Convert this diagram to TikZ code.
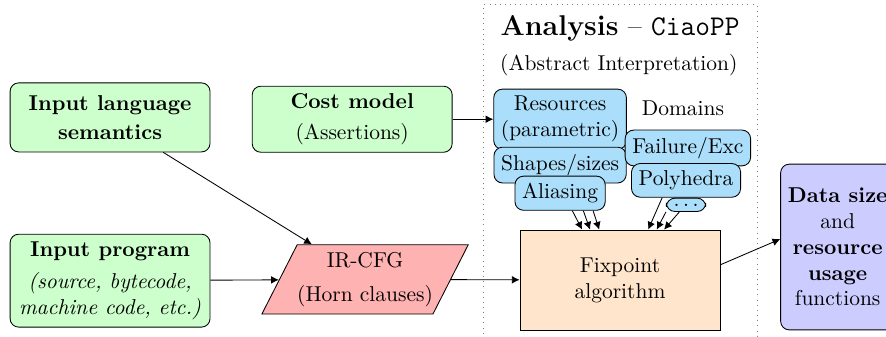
\documentclass[tikz,border=0pt]{standalone}
\usetikzlibrary{positioning,shapes.geometric,arrows.meta}
\definecolor{domblue}{RGB}{170,222,250}

\begin{document}
\begin{tikzpicture}
    [>={Latex[length=3.6pt,width=3.6pt]}, every node/.style={draw, align=center, rounded corners=4pt},
     inbox/.style={fill=green!20, minimum width=3.27cm},
     dombox/.style={fill=domblue}]
  \useasboundingbox (0,0) rectangle (14.49,5.51);

  % analysis frame
  \draw[dotted, gray] (7.90,-0.2) rectangle (12.38,5.43);
  \node[draw=none, font=\fontsize{13.3}{16}\selectfont] (title) at (10.14,5.05) {\textbf{Analysis} -- \texttt{CiaoPP}};
  \node[draw=none] (absint) at (10.12,4.45) {(Abstract Interpretation)};
  \node[draw=none] (domlbl) at (11.17,3.74) {Domains};

  % inputs
  \node[inbox, minimum height=1.13cm] (sem) at (1.80,3.59) {\textbf{Input language}\\[1.5pt]\textbf{semantics}};
  \node[inbox, minimum height=1.08cm] (cost) at (5.76,3.56) {\textbf{Cost model}\\[2pt](Assertions)};
  \node[inbox, minimum height=1.52cm] (prog) at (1.80,0.92) {\textbf{Input program}\\[3pt]\textit{(source, bytecode,}\\\textit{machine code, etc.)}};

  \node[trapezium, trapezium left angle=63, trapezium right angle=117, inner xsep=0pt,
        rounded corners=0pt, fill=red!30, minimum height=1.1cm] (ir) at (5.97,0.94) {IR-CFG\\[4pt](Horn clauses)};
  \node[rounded corners=0pt, fill=orange!20, minimum width=3.27cm, minimum height=1.635cm] (fix) at (10.14,0.93) {Fixpoint\\algorithm};
  \node[fill=blue!20, minimum height=2.71cm] (out) at (13.70,1.47) {\textbf{Data size}\\and\\\textbf{resource}\\\textbf{usage}\\functions};

  % abstract domains
  \node[dombox] (res) at (9.16,3.56) {Resources\\(parametric)};
  \node[dombox] (shp) at (9.16,2.81) {Shapes/sizes};
  \node[dombox] (alias) at (9.16,2.35) {Aliasing};
  \node[dombox] (fail) at (11.25,3.09) {Failure/Exc};
  \node[dombox] (poly) at (11.22,2.56) {Polyhedra};
  \node[dombox, text height=1.2pt, text depth=0pt, inner ysep=2.5pt] (more) at (11.22,2.16) {$\dots$};

  \draw[->] ([xshift=0.87cm]sem.south) -- ([xshift=-0.87cm]ir.north);
  \foreach \from/\to in {cost/res, prog/ir, ir/fix}
    \draw[->] (\from) -- (\to);
  \draw[->] ([yshift=0.25cm]fix.east) -- ([yshift=0.13cm]out.west);

  \foreach \a/\b in {0.20/-0.62, 0.38/-0.49, 0.54/-0.34}
    \draw[->] ([xshift=\a cm]alias.south) -- ([xshift=\b cm]fix.north);
  \draw[->] ([xshift=-0.39cm]poly.south) -- ([xshift=0.46cm]fix.north);
  \draw[->] (more.south west) -- ([xshift=0.60cm]fix.north);
  \draw[->] ([xshift=-0.11cm]more.south) -- ([xshift=0.72cm]fix.north);
\end{tikzpicture}
\end{document}
